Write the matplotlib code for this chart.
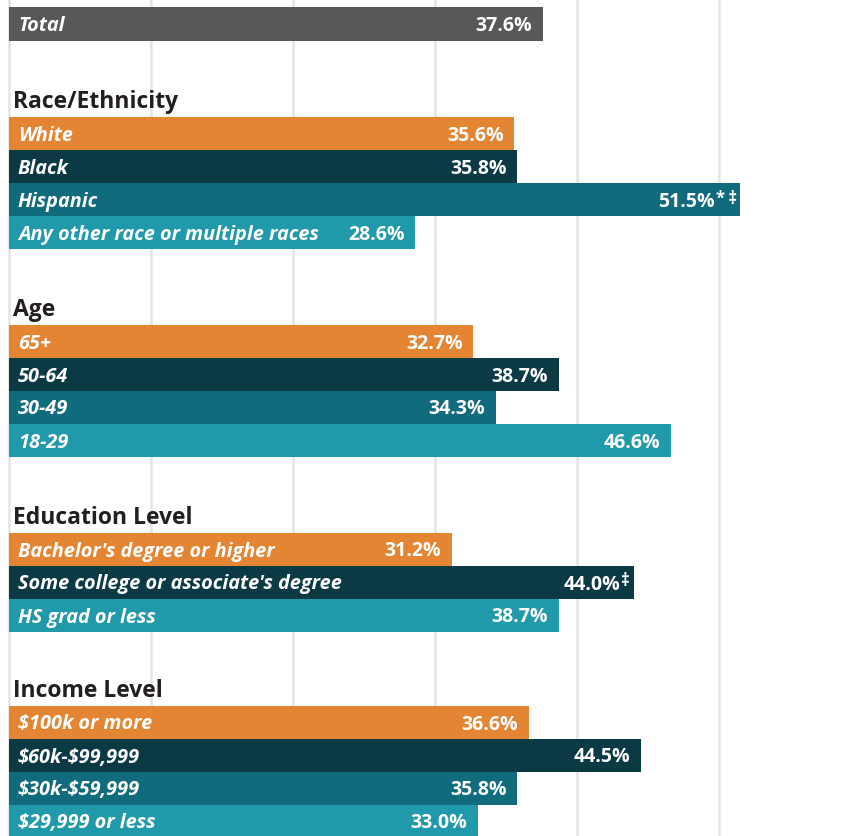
import matplotlib.pyplot as plt

plt.rcParams['font.family'] = ['Open Sans', 'DejaVu Sans']

# data
total_label = 'Total'
total_value = 37.6

groups = ['Race/Ethnicity', 'Age', 'Education Level', 'Income Level']

race_labels = ['White', 'Black', 'Hispanic', 'Any other race or multiple races']
race_values = [35.6, 35.8, 51.5, 28.6]
race_notes = ['', '', '*\u2009\u2021', '']

age_labels = ['65+', '50-64', '30-49', '18-29']
age_values = [32.7, 38.7, 34.3, 46.6]
age_notes = ['', '', '', '']

edu_labels = ["Bachelor's degree or higher", "Some college or associate's degree", 'HS grad or less']
edu_values = [31.2, 44.0, 38.7]
edu_notes = ['', '\u2021', '']

inc_labels = ['$100k or more', '$60k-$99,999', '$30k-$59,999', '$29,999 or less']
inc_values = [36.6, 44.5, 35.8, 33.0]
inc_notes = ['', '', '', '']

# colours
GRAY = '#58585a'
ORANGE = '#e38533'
DARK = '#0b3a45'
MID = '#106b7d'
LIGHT = '#209aaa'
HEAD = '#231f20'

fig = plt.figure(figsize=(8.57, 8.37), dpi=100)
ax = fig.add_axes([0, 0, 1, 1])
ax.set_xlim(-0.63, 59.72)
ax.set_ylim(837, 0)
ax.axis('off')
for g in range(0, 70, 10):
    ax.axvline(g, color='#e4e4e4', lw=1.8, zorder=0)

renderer = fig.canvas.get_renderer()
px_per_pct = 857 / (59.72 + 0.63)


def draw_bar(yc, h, val, label, note, color):
    ax.barh(yc, val, height=h, left=0, color=color, zorder=2)
    ax.text(0.63, yc + 1, label, color='white', fontsize=14.3, fontstyle='italic',
            fontweight='bold', va='center', ha='left', parse_math=False, zorder=3)
    xr = val - 0.75
    if note:
        xr = val - 0.25
        t = ax.text(xr, yc - 2, note, color='white', fontsize=12, fontweight='bold',
                    va='center', ha='right', parse_math=False, zorder=3)
        w = t.get_window_extent(renderer).width
        xr -= w / px_per_pct + 0.05
    ax.text(xr, yc + 1, f'{val:.1f}%', color='white', fontsize=14, fontweight='bold',
            va='center', ha='right', zorder=3)


# total bar
draw_bar(25, 34, total_value, total_label, '', GRAY)

group_data = [
    (race_labels, race_values, race_notes),
    (age_labels, age_values, age_notes),
    (edu_labels, edu_values, edu_notes),
    (inc_labels, inc_values, inc_notes),
]

pitch = 33
bottom = 42
gaps = [76, 76, 76, 74]
for name, (labels, values, notes), gap in zip(groups, group_data, gaps):
    top = bottom + gap
    ax.text(0.3, top - 16, name, color=HEAD, fontsize=16.5, fontweight='bold',
            va='center', ha='left')
    if len(values) == 4:
        colors = [ORANGE, DARK, MID, LIGHT]
    else:
        colors = [ORANGE, DARK, LIGHT]
    for i, (lab, val, note) in enumerate(zip(labels, values, notes)):
        draw_bar(top + i * pitch + pitch / 2, pitch, val, lab, note, colors[i])
    bottom = top + len(values) * pitch

fig.savefig('out.png', dpi=100)
